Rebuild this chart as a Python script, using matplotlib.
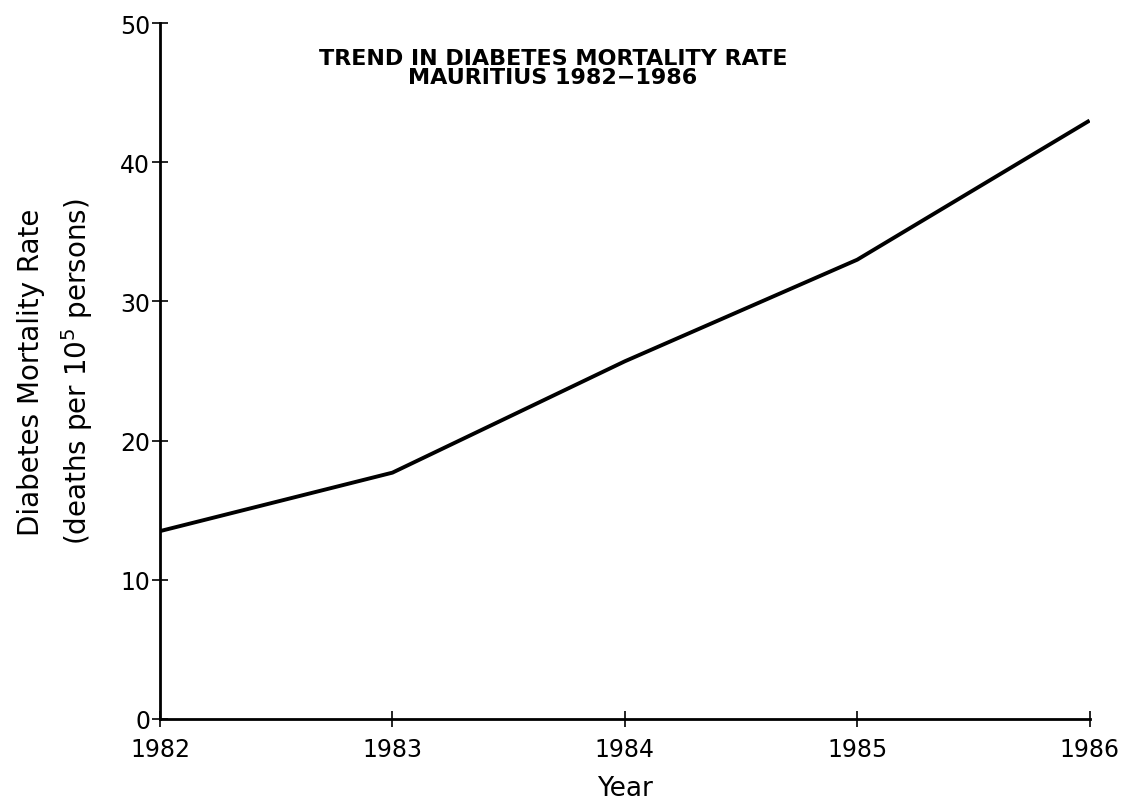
import matplotlib
matplotlib.use("Agg")
import matplotlib.pyplot as plt

# values
years = [1982, 1983, 1984, 1985, 1986]
rate = [13.5, 17.7, 25.7, 33.0, 43.0]
y_ticks = [0, 10, 20, 30, 40, 50]

plt.rcParams['font.family'] = 'DejaVu Sans'

fig = plt.figure(figsize=(11.35, 8.04), dpi=100)
ax = fig.add_axes([0.141, 0.1045, 0.819, 0.8655])

ax.plot(years, rate, color='black', linewidth=2.8, solid_capstyle='butt')

ax.set_xlim(1982, 1986)
ax.set_ylim(0, 50)
ax.set_xticks(years)
ax.set_yticks(y_ticks)

for side in ['top', 'right']:
    ax.spines[side].set_visible(False)
for side in ['left', 'bottom']:
    ax.spines[side].set_linewidth(2)

ax.tick_params(axis='both', direction='inout', length=12, width=1.2,
               labelsize=17, colors='black')
ax.tick_params(axis='y', pad=1)
ax.tick_params(axis='x', pad=7)

ax.set_xlabel('Year', fontsize=19, labelpad=10)
ax.set_ylabel('Diabetes Mortality Rate\n(deaths per 10$^5$ persons)',
              fontsize=20, linespacing=1.5, labelpad=18)

ax.text(0.4226, 0.964, 'TREND IN DIABETES MORTALITY RATE\nMAURITIUS 1982\u22121986',
        transform=ax.transAxes, ha='center', va='top', fontsize=16,
        fontweight='bold', linespacing=0.95)

fig.savefig('out.png', dpi=100)
